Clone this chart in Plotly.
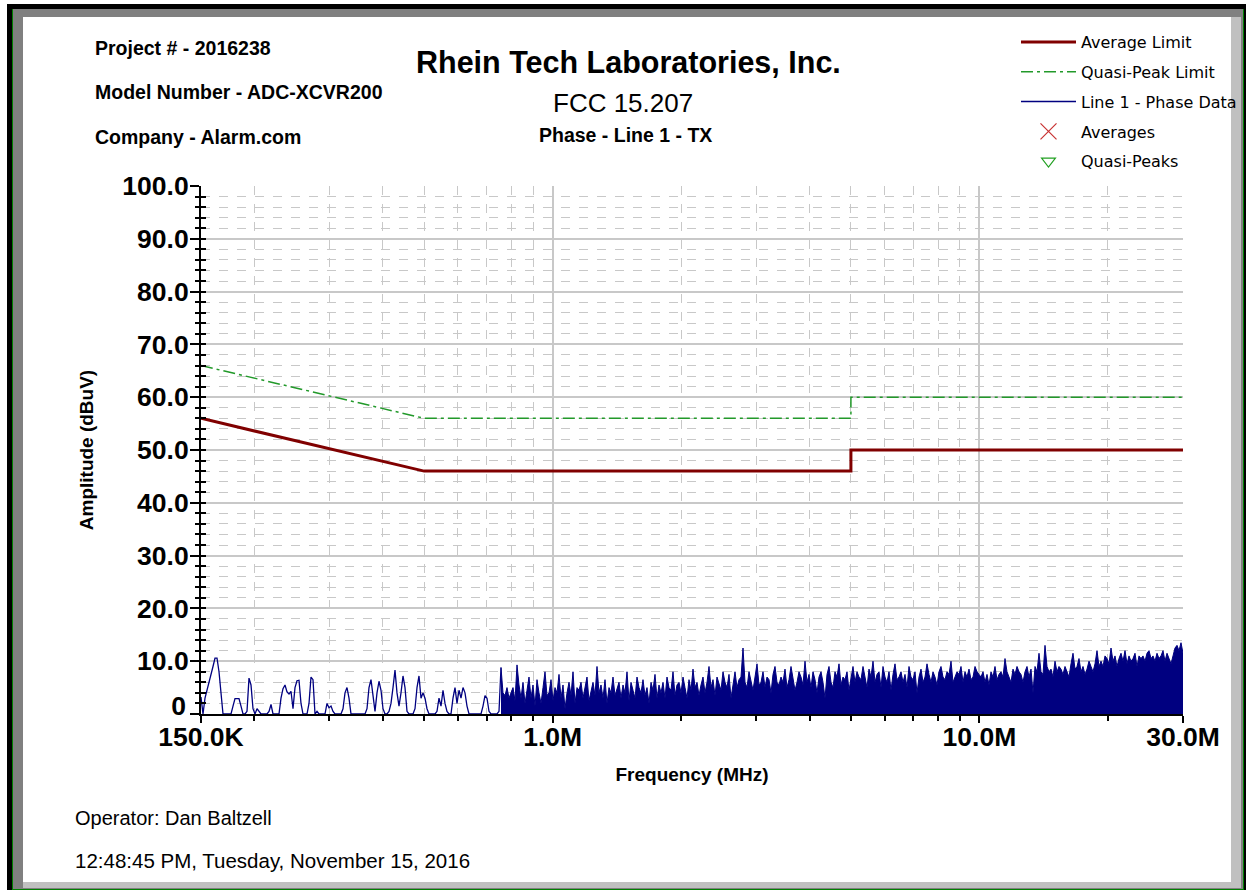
import numpy as np
import plotly.graph_objects as go

W, H = 1246, 890
ML, MR, MT, MB = 70, 20, 20, 110   # fixed figure margins (px)

# ---------------- data ----------------
limit_freq_mhz = [0.15, 0.5, 5.0, 5.0, 30.0]
average_limit = [56, 46, 46, 50, 50]
quasi_peak_limit = [66, 56, 56, 60, 60]

# Line 1 phase data (dBuV) on an even log-frequency grid
phase_sparse = [
    3.2, 0, 3, 4.5, 5.5, 7, 9, 10.6, 10.6, 8, 4, 0, 0, 0, 0, 0, 1.5, 2.9, 2.9, 2.9,
    1.5, 0, 0, 0.5, 6.8, 5.5, 1, 0, 1, 0.5, 0, 0, 0, 0, 0.5, 1.8, 0, 0, 0, 0,
    3, 4.8, 5.5, 4.2, 3.8, 4.3, 1, 5, 6.3, 6.4, 2, 0, 0, 0, 2, 7, 6.5, 0, 0.5, 0,
    0, 0, 0, 2, 1.2, 1.5, 0.5, 0, 0, 0, 0, 1, 4, 5, 3, 0, 0, 0, 0, 0,
    0, 0, 0, 1, 5, 6.5, 3, 0.5, 4, 6.2, 4.5, 1, 0, 0, 0.5, 2, 5, 8.3, 4, 1.5,
    4, 7.2, 5, 0.5, 0, 0, 0, 1, 5, 7.2, 3, 4, 3, 1, 0, 0, 0, 0, 0.5, 3,
    1.5, 4.5, 2, 0.5, 0, 0, 3, 5, 2, 4.5, 3, 5, 4, 1.5, 0, 0, 0, 0, 0, 0,
    0, 1.5, 3.5, 3, 0.5, 0, 0, 0, 0, 0.5, 8.8,
]
phase_dense = [
    8.8, 4, 3.5, 5, 3, 4, 5, 2.5, 9.3, 5.5, 3, 6, 2, 4.5, 7, 3, 5.5, 1.5, 6.5, 4,
    2, 5, 8, 3.5, 4, 6.5, 2.5, 5, 4, 7.5, 3, 5.5, 1, 4, 6, 3.5, 8, 2, 5, 4.5,
    6, 3, 5, 7, 2.5, 4.5, 6, 3.5, 9, 4, 5.5, 3, 6.5, 2, 5, 4, 7, 3.5, 5, 6,
    3, 5.5, 4, 8, 2.5, 6, 4.5, 3, 7, 5, 4, 6.5, 3.5, 5, 2, 6, 4.5, 7.5, 3, 5.5,
    4, 6, 3, 7, 5, 4.5, 8, 3.5, 5.5, 6, 4, 7, 5, 3, 6.5, 4.5, 8.5, 5, 6, 3.5,
    5.5, 7, 4, 6, 9, 5, 6.5, 3.5, 7, 5.5, 4.5, 8, 6, 5, 7.5, 3, 6, 8, 5, 6.5,
    7, 12.5, 6, 5, 8, 6.5, 4.5, 7, 9.5, 5.5, 6, 8, 5, 7, 6.5, 4, 7.5, 9, 6, 5.5,
    7, 6, 8.5, 5, 6.5, 9, 7, 4.5, 6, 8, 7, 5.5, 10, 6, 7.5, 5, 8, 6.5, 4, 7,
    8, 6, 3, 7.5, 9, 6, 5, 8, 7, 9.5, 5.5, 7, 6.5, 8, 4.5, 7, 9, 6, 8, 7,
    6.5, 9, 7, 5, 8.5, 7, 10, 6, 7.5, 8, 5, 9, 7, 6, 8, 4.5, 7.5, 9.5, 6.5, 7,
    8, 6, 7.5, 5, 9, 7, 6.5, 8, 4, 7, 8.5, 6, 7, 9.5, 7.5, 6, 8, 7, 5.5, 8,
    9, 7, 6.5, 8, 7.5, 10, 6, 7, 8, 7.5, 9, 6, 8, 7, 8.5, 6.5, 7, 9, 8, 7.5,
    7, 8, 6, 7.5, 5.5, 8, 7, 9, 6.5, 7.5, 8, 7, 10.5, 8, 7, 6, 8.5, 7.5, 9, 8,
    7.5, 6, 8, 9, 7, 8.5, 4, 9, 8, 11.5, 8, 7.5, 13, 9, 8, 8.5, 7, 10, 8, 9,
    8.5, 7.5, 9, 8, 7, 9.5, 11.5, 8.5, 9, 10.5, 8, 9, 7.5, 8.5, 10, 9, 8, 9.5, 12, 9,
    10, 9, 11, 10.5, 9.5, 12.5, 10, 11, 9, 10.5, 11.5, 10, 12, 9.5, 11, 10, 10.5, 11.5, 9, 11,
    10.5, 11, 10, 11.5, 12, 10.5, 11, 10, 11.5, 10.5, 11, 12, 10, 11.5, 10.5, 9.5, 11, 12.5, 13, 12,
    13.5, 11.5,
]

x_tick_vals = [0.15, 1, 10, 30]
x_tick_text = ["150.0K", "1.0M", "10.0M", "30.0M"]
x_minor_vals = [0.2, 0.3, 0.4, 0.5, 0.6, 0.7, 0.8, 0.9,
                2, 3, 4, 5, 6, 7, 8, 9, 20]
y_tick_vals = [0, 10, 20, 30, 40, 50, 60, 70, 80, 90, 100]
y_tick_text = ["0", "10.0", "20.0", "30.0", "40.0", "50.0",
               "60.0", "70.0", "80.0", "90.0", "100.0"]

# frequency grid for the phase data (shared sample axis)
n_total = len(phase_sparse) + len(phase_dense) - 1
freq_grid = np.geomspace(0.15, 30.0, n_total)
freq_sparse = freq_grid[:len(phase_sparse)]
freq_dense = freq_grid[len(phase_sparse) - 1:]

# ---------------- helpers: figure pixels -> paper coords ----------------
PW, PH = W - ML - MR, H - MT - MB

def px(x):
    return (x - ML) / PW

def py(y):
    return 1 - (y - MT) / PH

NAVY = "#000080"
DARKRED = "#800000"
GREEN = "#22992a"
FONT = "Liberation Sans, Arial, sans-serif"

fig = go.Figure()

fig.add_trace(go.Scatter(
    x=limit_freq_mhz, y=average_limit, mode="lines", name="Average Limit",
    line=dict(color=DARKRED, width=3), legendgroup="a"))
fig.add_trace(go.Scatter(
    x=limit_freq_mhz, y=quasi_peak_limit, mode="lines", name="Quasi-Peak Limit",
    line=dict(color=GREEN, width=1.5, dash="12px,4px,3px,4px"), legendgroup="b"))
fig.add_trace(go.Scatter(
    x=freq_sparse, y=phase_sparse, mode="lines", name="Line 1 - Phase Data",
    line=dict(color=NAVY, width=1.3), legendgroup="c"))
fig.add_trace(go.Scatter(
    x=freq_dense, y=phase_dense, mode="lines", name="Line 1 - Phase Data",
    line=dict(color=NAVY, width=1), fill="tozeroy", fillcolor=NAVY,
    legendgroup="c", showlegend=False))
fig.add_trace(go.Scatter(
    x=[None], y=[None], mode="markers", name="Averages", yaxis="y2",
    marker=dict(symbol="x-thin-open", size=16, color="#c83232",
                line=dict(color="#c83232", width=1.2)), legendgroup="d"))
fig.add_trace(go.Scatter(
    x=[None], y=[None], mode="markers", name="Quasi-Peaks", yaxis="y3",
    marker=dict(symbol="triangle-down-open", size=12, color="#22a022",
                line=dict(color="#22a022", width=1.2)), legendgroup="e"))

# ---------------- frame shapes ----------------
shapes = []
def rect(x0, y0, x1, y1, color):
    shapes.append(dict(type="rect", xref="paper", yref="paper",
                       x0=px(x0), x1=px(x1), y0=py(y1), y1=py(y0),
                       fillcolor=color, line=dict(width=0), layer="below"))

rect(7, 4, 1246, 890, "#000000")
rect(12, 9, 1244, 890, "#008000")
rect(13, 9, 1243, 889, "#808080")
rect(23, 17, 1241, 888, "#c0c0c0")
rect(23, 17, 1231, 882, "#ffffff")

GRID = "#c8c8c8"
axis_font = dict(family=FONT, size=26.5, color="black", weight="bold")

# the "0" label sits slightly above its tick in the original, so it is drawn
# by a label-only overlay axis; the main axis keeps the tick mark itself
main_y_text = [""] + y_tick_text[1:]

fig.update_layout(
    width=W, height=H, autosize=False,
    margin=dict(l=ML, r=MR, t=MT, b=MB, pad=0, autoexpand=False),
    paper_bgcolor="white", plot_bgcolor="rgba(0,0,0,0)",
    shapes=shapes,
    showlegend=True,
    legend=dict(x=px(1016), y=py(25), xanchor="left", yanchor="top",
                font=dict(family="DejaVu Sans", size=16, color="black"),
                bgcolor="rgba(0,0,0,0)", tracegroupgap=6, itemwidth=55,
                traceorder="grouped"),
    xaxis=dict(
        type="log", range=[np.log10(0.15), np.log10(30)],
        domain=[px(201), px(1183)], anchor="y", automargin=False,
        tickmode="array", tickvals=x_tick_vals, ticktext=x_tick_text,
        tickfont=axis_font, ticks="outside", ticklen=7, tickwidth=1.5,
        tickcolor="black", showline=True, linecolor="black", linewidth=2,
        ticklabelstandoff=-9,
        showgrid=True, gridcolor=GRID, gridwidth=1.5, zeroline=False,
        minor=dict(tickmode="array", tickvals=x_minor_vals, ticks="outside",
                   ticklen=5, tickwidth=1.5, tickcolor="black", showgrid=True,
                   gridcolor=GRID, griddash="dash", gridwidth=1),
        title=dict(text="Frequency (MHz)",
                   font=dict(family=FONT, size=19, color="black", weight="bold"),
                   standoff=17),
    ),
    yaxis=dict(
        range=[0, 100], domain=[py(714), py(186)], anchor="x", automargin=False,
        tickmode="array", tickvals=y_tick_vals, ticktext=main_y_text,
        tickfont=axis_font, ticks="outside", ticklen=9, tickwidth=1.5,
        tickcolor="black", showline=True, linecolor="black", linewidth=2,
        ticklabelstandoff=-4,
        showgrid=True, gridcolor=GRID, gridwidth=1.5, zeroline=False,
        minor=dict(tick0=0, dtick=2, ticks="outside", ticklen=4, tickwidth=1.5,
                   tickcolor="black", showgrid=True, gridcolor=GRID,
                   griddash="dash", gridwidth=1),
        title=dict(text="Amplitude (dBuV)",
                   font=dict(family=FONT, size=19, color="black", weight="bold"),
                   standoff=24),
    ),
    yaxis2=dict(
        range=[0, 100], overlaying="y", anchor="x", side="left", automargin=False,
        tickmode="array", tickvals=y_tick_vals, ticks="inside", ticklen=5,
        tickwidth=1.5, tickcolor="black", showticklabels=False,
        showgrid=False, showline=False, zeroline=False,
        minor=dict(tick0=0, dtick=2, ticks="inside", ticklen=5, tickwidth=1.5,
                   tickcolor="black", showgrid=False),
    ),
    yaxis3=dict(
        range=[0, 100], overlaying="y", anchor="x", side="left", automargin=False,
        tickmode="array", tickvals=[y_tick_vals[0]], ticktext=[y_tick_text[0]],
        ticks="", showticklabels=True, tickfont=axis_font,
        ticklabelstandoff=14, ticklabelshift=-8,
        showgrid=False, showline=False, zeroline=False,
    ),
)

def note(text, x, y, size, bold=False, xanchor="left", family=FONT):
    fig.add_annotation(text=text, x=px(x), y=py(y), xref="paper", yref="paper",
                       xanchor=xanchor, yanchor="middle", showarrow=False,
                       font=dict(family=family, size=size, color="black",
                                 weight="bold" if bold else "normal"))

note("Project # - 2016238", 93, 48, 19.5, bold=True)
note("Model Number - ADC-XCVR200", 93, 92, 19.5, bold=True)
note("Company - Alarm.com", 93, 137, 19.5, bold=True)
note("Rhein Tech Laboratories, Inc.", 628, 62, 30.5, bold=True, xanchor="center")
note("FCC 15.207", 623, 103, 26, xanchor="center")
note("Phase - Line 1 - TX", 625, 135, 19.5, bold=True, xanchor="center")
note("Operator: Dan Baltzell", 73, 818, 20)
note("12:48:45 PM, Tuesday, November 15, 2016", 73, 860, 20.5)

fig.write_html(
    "out.html",
    config={"displayModeBar": False},
    post_script="document.body.style.margin='0';document.body.style.overflow='hidden';",
)
